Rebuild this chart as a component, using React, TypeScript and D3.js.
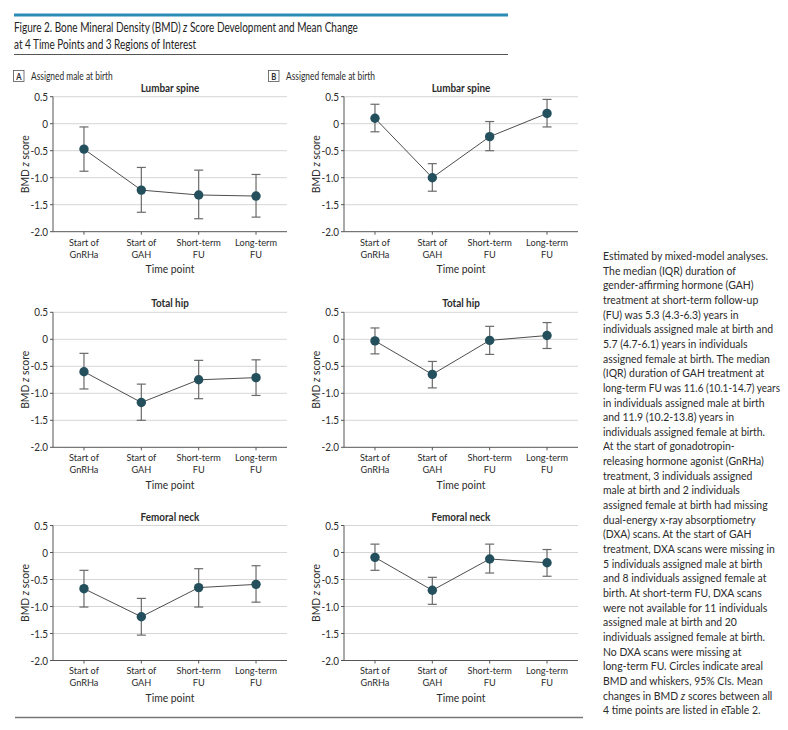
import React, { useLayoutEffect, useRef, useState } from 'react';
import * as d3 from 'd3';

// ---- data ----
const timeLabelLines = [
  ['Start of', 'GnRHa'],
  ['Start of', 'GAH'],
  ['Short-term', 'FU'],
  ['Long-term', 'FU'],
];
const timePoints = ['Start of GnRHa', 'Start of GAH', 'Short-term FU', 'Long-term FU'];
const yTicks = [0.5, 0, -0.5, -1.0, -1.5, -2.0];
const yTickLabels = ['0.5', '0', '-0.5', '-1.0', '-1.5', '-2.0'];
const regions = ['Lumbar spine', 'Total hip', 'Femoral neck'];

// Assigned male at birth
const maleLumbarMean = [-0.47, -1.23, -1.32, -1.34];
const maleLumbarLow = [-0.88, -1.64, -1.76, -1.73];
const maleLumbarHigh = [-0.06, -0.81, -0.86, -0.94];
const maleHipMean = [-0.6, -1.17, -0.75, -0.71];
const maleHipLow = [-0.92, -1.5, -1.1, -1.04];
const maleHipHigh = [-0.26, -0.83, -0.39, -0.38];
const maleNeckMean = [-0.67, -1.19, -0.65, -0.59];
const maleNeckLow = [-1.01, -1.53, -1.01, -0.92];
const maleNeckHigh = [-0.33, -0.85, -0.3, -0.245];

// Assigned female at birth
const femaleLumbarMean = [0.1, -1.0, -0.24, 0.19];
const femaleLumbarLow = [-0.15, -1.25, -0.5, -0.06];
const femaleLumbarHigh = [0.36, -0.74, 0.04, 0.45];
const femaleHipMean = [-0.03, -0.65, -0.02, 0.07];
const femaleHipLow = [-0.27, -0.9, -0.28, -0.17];
const femaleHipHigh = [0.21, -0.41, 0.24, 0.31];
const femaleNeckMean = [-0.09, -0.7, -0.12, -0.19];
const femaleNeckLow = [-0.33, -0.96, -0.38, -0.44];
const femaleNeckHigh = [0.155, -0.46, 0.155, 0.055];

const noteLines = [
  'Estimated by mixed-model analyses.',
  'The median (IQR) duration of',
  'gender-affirming hormone (GAH)',
  'treatment at short-term follow-up',
  '(FU) was 5.3 (4.3-6.3) years in',
  'individuals assigned male at birth and',
  '5.7 (4.7-6.1) years in individuals',
  'assigned female at birth. The median',
  '(IQR) duration of GAH treatment at',
  'long-term FU was 11.6 (10.1-14.7) years',
  'in individuals assigned male at birth',
  'and 11.9 (10.2-13.8) years in',
  'individuals assigned female at birth.',
  'At the start of gonadotropin-',
  'releasing hormone agonist (GnRHa)',
  'treatment, 3 individuals assigned',
  'male at birth and 2 individuals',
  'assigned female at birth had missing',
  'dual-energy x-ray absorptiometry',
  '(DXA) scans. At the start of GAH',
  'treatment, DXA scans were missing in',
  '5 individuals assigned male at birth',
  'and 8 individuals assigned female at',
  'birth. At short-term FU, DXA scans',
  'were not available for 11 individuals',
  'assigned male at birth and 20',
  'individuals assigned female at birth.',
  'No DXA scans were missing at',
  'long-term FU. Circles indicate areal',
  'BMD and whiskers, 95% CIs. Mean',
  '__Z__changes in BMD z scores between all',
  '4 time points are listed in eTable 2.',
];

const panelData = [
  [
    { mean: maleLumbarMean, low: maleLumbarLow, high: maleLumbarHigh },
    { mean: maleHipMean, low: maleHipLow, high: maleHipHigh },
    { mean: maleNeckMean, low: maleNeckLow, high: maleNeckHigh },
  ],
  [
    { mean: femaleLumbarMean, low: femaleLumbarLow, high: femaleLumbarHigh },
    { mean: femaleHipMean, low: femaleHipLow, high: femaleHipHigh },
    { mean: femaleNeckMean, low: femaleNeckLow, high: femaleNeckHigh },
  ],
];

// ---- layout ----
const FONT = "Lato, 'Open Sans', sans-serif";
const SX = 0.9;
const W = 788;
const H = 730;
const colX = [53, 344];
const rowTop = [96.7, 312.3, 525.5];
const plotW = 234;
const plotH = 135;
const TEXT = '#2b2b2b';
const DOT = '#244f5c';
const NOTE_X = 603;
const NOTE_MAX_W = 177;

function T({ x, y, children, anchor = 'start', size = 11, weight = 400, fill = TEXT, sx = SX }: any) {
  const tr = `translate(${x},${y}) scale(${sx},1)`;
  return (
    <g transform={tr}>
      <text textAnchor={anchor} fontSize={size} fontWeight={weight} fill={fill} fontFamily={FONT}>
        {children}
      </text>
    </g>
  );
}

// text line that is condensed, and squeezed further if wider than maxW
function FitText({ x, y, children, size = 12, sx = 0.87, maxW }: any) {
  const ref = useRef<SVGTextElement>(null);
  const [s, setS] = useState(sx);
  useLayoutEffect(() => {
    if (ref.current) {
      const w = ref.current.getComputedTextLength();
      if (w * sx > maxW) setS(maxW / w);
      else setS(sx);
    }
  }, [children, sx, maxW]);
  return (
    <g transform={`translate(${x},${y}) scale(${s},1)`}>
      <text ref={ref} fontSize={size} fill={TEXT} fontFamily={FONT}>
        {children}
      </text>
    </g>
  );
}

function Panel({ x0, y0, region, d }: any) {
  const xs = d3.scalePoint<string>().domain(timePoints).range([x0, x0 + plotW]).padding(0.54);
  const ys = d3.scaleLinear().domain([-2, 0.5]).range([y0 + plotH, y0]);
  const line = d3
    .line<number>()
    .x((_, i) => xs(timePoints[i]) as number)
    .y((v) => ys(v));
  const bottom = ys(-2);
  const cx = x0 + plotW / 2;
  return (
    <g>
      {yTicks.map((t, i) => (
        <g key={i}>
          {t !== -2 && <line x1={x0} x2={x0 + plotW} y1={ys(t)} y2={ys(t)} stroke="#d6d6d6" strokeWidth={1} />}
          <line x1={x0 - 3} x2={x0} y1={ys(t)} y2={ys(t)} stroke="#555" strokeWidth={1} />
          <T x={x0 - 5} y={ys(t) + 4} anchor="end" size={11}>{yTickLabels[i]}</T>
        </g>
      ))}
      <line x1={x0} x2={x0} y1={ys(0.5)} y2={bottom} stroke="#555" strokeWidth={1} />
      <line x1={x0} x2={x0 + plotW} y1={bottom} y2={bottom} stroke="#555" strokeWidth={1} />
      {timePoints.map((tp, i) => (
        <g key={tp}>
          <line x1={xs(tp)} x2={xs(tp)} y1={bottom} y2={bottom + 3} stroke="#555" strokeWidth={1} />
          <T x={xs(tp)} y={bottom + 13.8} anchor="middle" size={10.2}>{timeLabelLines[i][0]}</T>
          <T x={xs(tp)} y={bottom + 25.8} anchor="middle" size={10.2}>{timeLabelLines[i][1]}</T>
        </g>
      ))}
      <T x={cx} y={bottom + 41.5} anchor="middle" size={11.5}>Time point</T>
      <T x={cx} y={y0 - 5} anchor="middle" size={11} weight={700}>{region}</T>
      <g transform={`translate(${x0 - 24},${y0 + plotH / 2}) rotate(-90) scale(${SX},1)`}>
        <text textAnchor="middle" fontSize={11.5} fill={TEXT} fontFamily={FONT}>
          BMD <tspan fontStyle="italic">z</tspan> score
        </text>
      </g>
      {/* error bars */}
      {timePoints.map((tp, i) => {
        const x = xs(tp) as number;
        return (
          <g key={'e' + tp} stroke="#6a6a6a" strokeWidth={1.2}>
            <line x1={x} x2={x} y1={ys(d.high[i])} y2={ys(d.low[i])} />
            <line x1={x - 4.5} x2={x + 4.5} y1={ys(d.high[i])} y2={ys(d.high[i])} />
            <line x1={x - 4.5} x2={x + 4.5} y1={ys(d.low[i])} y2={ys(d.low[i])} />
          </g>
        );
      })}
      <path d={line(d.mean) as string} fill="none" stroke="#3a3a3a" strokeWidth={0.9} />
      {timePoints.map((tp, i) => (
        <circle key={'c' + tp} cx={xs(tp)} cy={ys(d.mean[i])} r={4.7} fill={DOT} />
      ))}
    </g>
  );
}

export default function App() {
  return (
    <svg width={W} height={H} style={{ display: 'block', background: '#fff', margin: -8 }}>
      <rect x={0} y={0} width={W} height={H} fill="#fff" />
      <line x1={14} x2={508} y1={15} y2={15} stroke="#2a8cb5" strokeWidth={3} />
      <g transform={`translate(14,31.5) scale(0.8,1)`}>
        <text fontSize={12.5} fill="#222" fontFamily={FONT}>
          Figure 2. Bone Mineral Density (BMD) <tspan fontStyle="italic">z</tspan> Score Development and Mean Change
        </text>
      </g>
      <T x={14} y={48.5} size={12.5} sx={0.8} fill="#222">at 4 Time Points and 3 Regions of Interest</T>
      <line x1={14} x2={508} y1={54.5} y2={54.5} stroke="#555" strokeWidth={1} />

      {/* panel labels */}
      <rect x={13.5} y={70.5} width={10.5} height={11} fill="#fff" stroke="#555" strokeWidth={0.8} />
      <T x={18.8} y={79.5} anchor="middle" size={8.5} weight={700}>A</T>
      <T x={31} y={79.5} size={10.5} sx={0.8}>Assigned male at birth</T>
      <rect x={268.5} y={70.5} width={10.5} height={11} fill="#fff" stroke="#555" strokeWidth={0.8} />
      <T x={273.8} y={79.5} anchor="middle" size={8.5} weight={700}>B</T>
      <T x={286} y={79.5} size={10.5} sx={0.8}>Assigned female at birth</T>

      {panelData.map((col, ci) =>
        col.map((d, ri) => <Panel key={ci + '-' + ri} x0={colX[ci]} y0={rowTop[ri]} region={regions[ri]} d={d} />)
      )}

      {noteLines.map((ln, i) => {
        const y = 260 + i * 14.65;
        if (ln.startsWith('__Z__')) {
          return (
            <FitText key={i} x={NOTE_X} y={y} maxW={NOTE_MAX_W}>
              changes in BMD <tspan fontStyle="italic">z</tspan> scores between all
            </FitText>
          );
        }
        return (
          <FitText key={i} x={NOTE_X} y={y} maxW={NOTE_MAX_W}>
            {ln}
          </FitText>
        );
      })}

      <line x1={15} x2={583} y1={717.5} y2={717.5} stroke="#777" strokeWidth={1.5} />
    </svg>
  );
}
